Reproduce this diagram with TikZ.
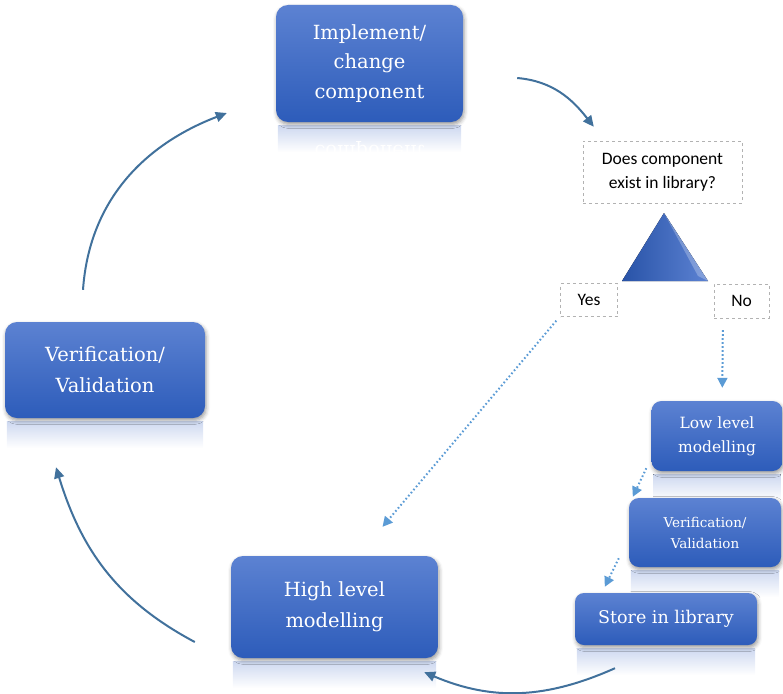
\documentclass[tikz,border=0pt]{standalone}
\usepackage{fontspec}
\setmainfont{DejaVu Serif}
\newfontfamily\carlito{Carlito}
\usetikzlibrary{arrows.meta,shadows.blur,backgrounds}
\definecolor{boxtop}{RGB}{92,130,210}
\definecolor{boxbot}{RGB}{45,92,186}
\definecolor{flowc}{RGB}{65,113,156}
\definecolor{dotc}{RGB}{91,155,213}
\definecolor{refc}{RGB}{205,216,240}

\begin{document}
\begin{tikzpicture}[x=1pt,y=1pt,
  blk/.style={rounded corners=12pt, top color=boxtop, bottom color=boxbot,
    text=white, align=center, inner sep=0pt,
    blur shadow={shadow xshift=1pt, shadow yshift=-2.5pt, shadow blur radius=4pt, shadow opacity=40}},
  qbox/.style={draw=black!30, dashed, align=center, inner sep=0pt,
    font=\carlito\fontsize{17.5}{24}\selectfont},
  flow/.style={flowc, line width=2pt, -{Triangle[length=11pt,width=10pt]}},
  dots/.style={dotc, line width=2pt, dash pattern=on 1.6pt off 2.4pt,
    -{Triangle[length=10pt,width=10pt]}},
  refl/.style={top color=refc, bottom color=white, draw=none}]
  \useasboundingbox (0,0) rectangle (783,-693);
  % main cycle.
  \node[blk, minimum width=187pt, minimum height=117pt, font=\fontsize{19.5}{29.5}\selectfont]
    (impl) at (369.5,-63.5) {Implement/\\change\\component};
  \node[blk, minimum width=200pt, minimum height=96pt, font=\fontsize{19.5}{31}\selectfont]
    (vleft) at (105,-370) {Verification/\\Validation};
  \node[blk, minimum width=207pt, minimum height=102pt, font=\fontsize{19.5}{31}\selectfont]
    (high) at (334.5,-607) {High level\\modelling};
  % library branch.
  \node[blk, rounded corners=10pt, minimum width=131pt, minimum height=70pt, font=\fontsize{15.5}{24}\selectfont]
    (low) at (717,-436) {Low level\\modelling};
  \node[blk, rounded corners=10pt, minimum width=152pt, minimum height=69pt, font=\fontsize{13.5}{21}\selectfont]
    (vsmall) at (705,-532.5) {Verification/\\Validation};
  \node[blk, rounded corners=9pt, minimum width=182pt, minimum height=52pt, font=\fontsize{17.5}{24}\selectfont]
    (store) at (666,-619) {Store in library};
  % question.
  \node[qbox, minimum width=159pt, minimum height=62pt] (ask) at (662.5,-172) {Does component\\exist in library?};
  \fill[left color=boxbot!90!black, right color=boxtop] (622,-281) -- (664,-213) -- (708,-281) -- cycle;
  \fill[white, opacity=0.25] (664,-213) -- (708,-281) -- (698,-276) -- cycle;
  \node[qbox, minimum width=57pt, minimum height=33pt] (yes) at (589,-300) {Yes};
  \node[qbox, minimum width=55pt, minimum height=34pt] (no) at (741.5,-301) {No};
  % reflections.
  \begin{scope}[on background layer]
    \foreach \n in {impl,vleft,high,low,vsmall,store}
      \fill[refl] ([xshift=2pt,yshift=-3pt]\n.south west) rectangle ([xshift=-2pt,yshift=-30pt]\n.south east);
    \begin{scope}
      \clip ([yshift=-3pt]impl.south west) rectangle ([yshift=-30pt]impl.south east);
      \node[white, yscale=-1, font=\fontsize{19.5}{29}\selectfont] at (369.5,-150) {component};
    \end{scope}
  \end{scope}
  % cycle arrows.
  \draw[flow] ([shift={(54,-14.5)}]impl.east) to[out=-5,in=128] ([shift={(11,14)}]ask.north west);
  \draw[flow] ([shift={(-36,-35)}]high.west) to[out=152,in=-73] ([shift={(-49,-49)}]vleft.south);
  \draw[flow] ([shift={(-22,32)}]vleft.north) to[out=86,in=201] ([shift={(-49,-49.5)}]impl.west);
  \draw[flow] ([shift={(-51,-23)}]store.south) to[out=-156,in=-23] ([shift={(-14,-14)}]high.south east);
  % dotted arrows.
  \draw[dots] ([shift={(-4,-4)}]yes.south west) -- ([shift={(48,29)}]high.north);
  \draw[dots] ([shift={(9,-12)}]no.south west) -- ([shift={(71,13)}]low.north west);
  \draw[dots] ([shift={(-5,3)}]low.south west) -- ([shift={(4,1)}]vsmall.north west);
  \draw[dots] ([shift={(-10,9)}]vsmall.south west) -- ([shift={(30,6)}]store.north west);
\end{tikzpicture}
\end{document}
